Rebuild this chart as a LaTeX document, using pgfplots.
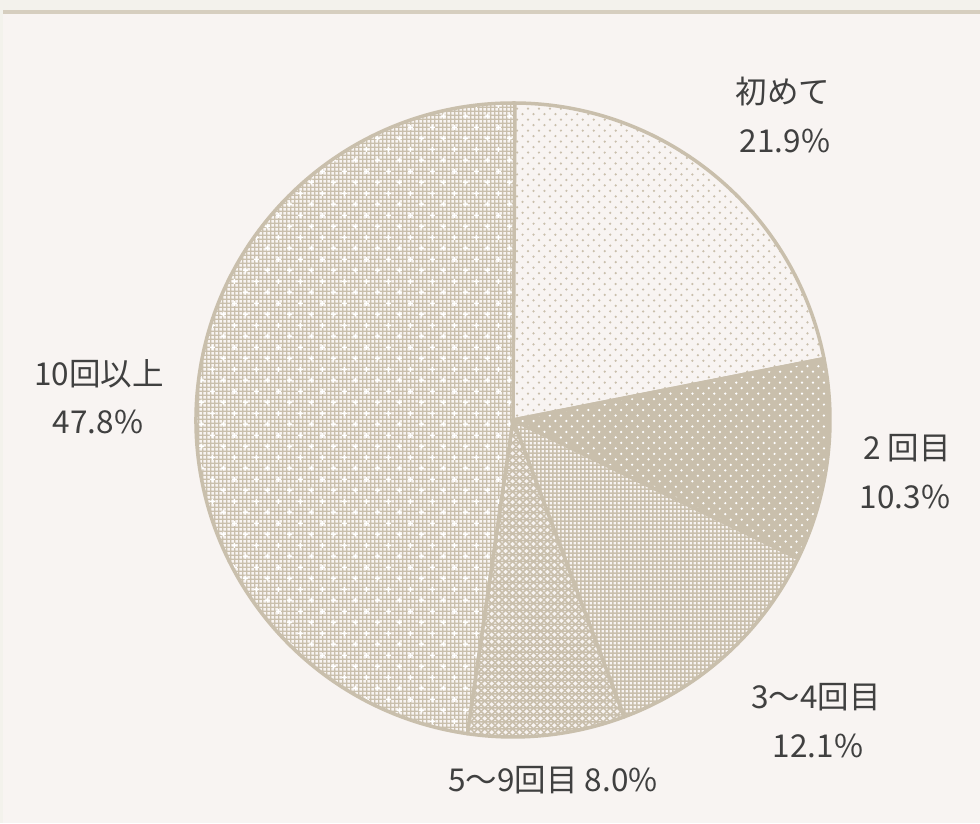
\documentclass[border=0pt]{standalone}
\usepackage{pgfplots}
\pgfplotsset{compat=1.18}
\usepackage{pgfplotstable}
\usetikzlibrary{patterns}
\usepackage{fontspec}
\setmainfont{Noto Sans CJK JP}
\definecolor{panel}{HTML}{F8F4F2}
\definecolor{strip}{HTML}{F3F2EC}
\definecolor{rule}{HTML}{D6CEBF}
\definecolor{beige}{HTML}{C9BFAC}
\definecolor{txt}{HTML}{404040}

\pgfdeclarepatternformonly{sparsedots}{\pgfqpoint{-1pt}{-1pt}}{\pgfqpoint{12pt}{12pt}}{\pgfqpoint{11pt}{11pt}}{%
  \pgfpathcircle{\pgfqpoint{2pt}{2pt}}{1.25pt}%
  \pgfpathcircle{\pgfqpoint{7.5pt}{7.5pt}}{1.25pt}%
  \pgfusepath{fill}}
\pgfdeclarepatternformonly{finegrid}{\pgfqpoint{0pt}{0pt}}{\pgfqpoint{4.4pt}{4.4pt}}{\pgfqpoint{4.4pt}{4.4pt}}{%
  \pgfpathrectangle{\pgfqpoint{0pt}{0pt}}{\pgfqpoint{4.4pt}{1.9pt}}%
  \pgfpathrectangle{\pgfqpoint{0pt}{0pt}}{\pgfqpoint{1.9pt}{4.4pt}}%
  \pgfusepath{fill}}
\pgfdeclarepatternformonly{thingrid}{\pgfqpoint{0pt}{0pt}}{\pgfqpoint{4.4pt}{4.4pt}}{\pgfqpoint{4.4pt}{4.4pt}}{%
  \pgfpathrectangle{\pgfqpoint{0pt}{0pt}}{\pgfqpoint{4.4pt}{1.5pt}}%
  \pgfpathrectangle{\pgfqpoint{0pt}{0pt}}{\pgfqpoint{1.5pt}{4.4pt}}%
  \pgfusepath{fill}}
\pgfdeclarepatternformonly{diamonds}{\pgfqpoint{-1pt}{-1pt}}{\pgfqpoint{8pt}{8pt}}{\pgfqpoint{7pt}{7pt}}{%
  \pgfsetlinewidth{1.5pt}%
  \pgfpathmoveto{\pgfqpoint{0pt}{0pt}}\pgfpathlineto{\pgfqpoint{7pt}{7pt}}%
  \pgfpathmoveto{\pgfqpoint{0pt}{7pt}}\pgfpathlineto{\pgfqpoint{7pt}{0pt}}%
  \pgfpathmoveto{\pgfqpoint{0pt}{3.5pt}}\pgfpathlineto{\pgfqpoint{7pt}{3.5pt}}%
  \pgfusepath{stroke}}
\pgfdeclarepatternformonly{crosses}{\pgfqpoint{0pt}{0pt}}{\pgfqpoint{22pt}{22pt}}{\pgfqpoint{22pt}{22pt}}{%
  \pgfpathrectangle{\pgfqpoint{2pt}{3pt}}{\pgfqpoint{5pt}{1.6pt}}%
  \pgfpathrectangle{\pgfqpoint{3.7pt}{1.3pt}}{\pgfqpoint{1.6pt}{5pt}}%
  \pgfpathrectangle{\pgfqpoint{13pt}{14pt}}{\pgfqpoint{5pt}{1.6pt}}%
  \pgfpathrectangle{\pgfqpoint{14.7pt}{12.3pt}}{\pgfqpoint{1.6pt}{5pt}}%
  \pgfusepath{fill}}

\tikzset{
  outl/.style={draw=beige, line width=3.5bp, line join=round},
  slice0/.style={preaction={fill=panel}, pattern=sparsedots, pattern color=beige, outl},
  slice1/.style={preaction={fill=beige}, pattern=sparsedots, pattern color=white, outl},
  slice2/.style={preaction={fill=panel}, pattern=finegrid, pattern color=beige, outl},
  slice3/.style={preaction={fill=panel}, pattern=diamonds, pattern color=beige, outl},
  slice4/.style={preaction={fill=panel}, preaction={pattern=thingrid, pattern color=beige}, pattern=crosses, pattern color=white, outl},
}

\pgfplotstableread{
pct
21.9
10.3
12.1
8.0
47.8
}\piedata

\begin{document}
\begin{tikzpicture}
\begin{axis}[
  width=980bp, height=823bp, scale only axis,
  xmin=0, xmax=980, ymin=0, ymax=823,
  hide axis, clip=false,
]
\fill[panel] (axis cs:0,0) rectangle (axis cs:980,823);
\fill[strip] (axis cs:0,810) rectangle (axis cs:980,823);
\fill[strip] (axis cs:0,0) rectangle (axis cs:3,823);
\fill[rule] (axis cs:3,809) rectangle (axis cs:980,813);

\pgfmathsetmacro\angstart{90}
\pgfplotsforeachungrouped \i in {0,...,4}{%
  \pgfplotstablegetelem{\i}{pct}\of\piedata
  \pgfmathsetmacro\angend{\angstart - 3.6*\pgfplotsretval}%
  \edef\temp{\noexpand\path[slice\i] (axis cs:513,403) -- ++(\angstart:317bp) arc[start angle=\angstart, end angle=\angend, radius=317bp] -- cycle;}%
  \temp
  \global\let\angstart\angend
}

\tikzset{lbl/.style={text=txt, font=\fontsize{31.5bp}{38bp}\selectfont, inner sep=0pt}}
\node[lbl] at (axis cs:783,731) {初めて};
\node[lbl] at (axis cs:785,682) {21.9\%};
\node[lbl] at (axis cs:907,375) {2 回目};
\node[lbl] at (axis cs:905,326) {10.3\%};
\node[lbl] at (axis cs:816,126) {3〜4回目};
\node[lbl] at (axis cs:818,77) {12.1\%};
\node[lbl] at (axis cs:553,43) {5〜9回目 8.0\%};
\node[lbl] at (axis cs:99,449) {10回以上};
\node[lbl] at (axis cs:98,401) {47.8\%};
\end{axis}
\end{tikzpicture}
\end{document}
